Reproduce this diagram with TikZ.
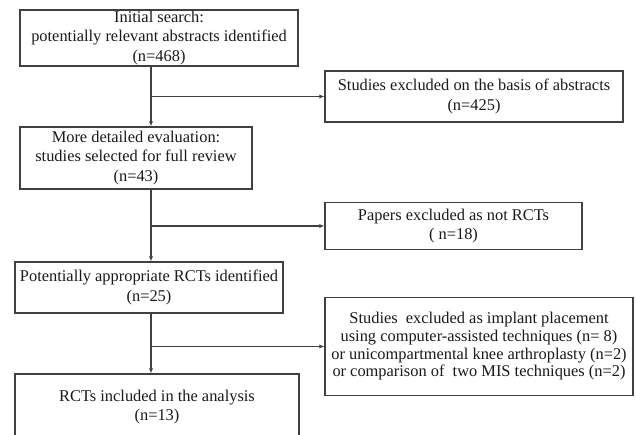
\documentclass[tikz,border=0pt]{standalone}
\usepackage{fontspec}
\setmainfont{Liberation Serif}
\usetikzlibrary{arrows.meta, positioning, calc}
\definecolor{lineg}{HTML}{404040}
\definecolor{txtk}{HTML}{1A1A1A}

\begin{document}
\begin{tikzpicture}[x=1pt, y=-1pt, >={Latex[length=5pt, width=4pt]},
  box/.style={draw=lineg, line width=1.1pt, text=txtk, align=center,
    inner sep=0pt, font=\fontsize{16.4}{19.2}\selectfont},
  flow/.style={->, lineg, line width=1.1pt}]

% Frame of the picture
\path[use as bounding box, clip] (0,0) rectangle (636,435);
\fill[white] (0,0) rectangle (636,435);

% === Main column ===
\node[box, minimum width=278pt, minimum height=56pt] (search) at (159,38)
  {Initial search:\\ potentially relevant abstracts identified\\ (n=468)};
\node[box, minimum width=232pt, minimum height=62pt] (detail) at (136,158)
  {More detailed evaluation:\\ studies selected for full review\\ (n=43)};
\node[box, minimum width=268pt, minimum height=51pt] (approp) at (149,287.5)
  {Potentially appropriate RCTs identified\\ (n=25)};
\node[box, minimum width=284pt, minimum height=66pt] (included) at (157,407)
  {RCTs included in the analysis\\ (n=13)};

% === Exclusions on the right ===
\node[box, minimum width=298pt, minimum height=51pt] (exclabs) at (474,96.5)
  {Studies excluded on the basis of abstracts\\ (n=425)};
\node[box, minimum width=257pt, minimum height=47pt] (exclrct) at (453.5,226)
  {Papers excluded as not RCTs\\ ( n=18)};
\node[box, minimum width=308pt, minimum height=98pt,
      font=\fontsize{16.4}{17.7}\selectfont] (exclimp) at (479,346.5)
  {Studies\ \ excluded as implant placement\\
   using computer-assisted techniques (n=\ 8)\\
   or unicompartmental knee arthroplasty (n=2)\\
   or comparison of\ \ two MIS techniques (n=2)};

% === Spine and connectors ===
\coordinate (spine) at (151,0);
\draw[flow] (search.south -| spine) -- (detail.north -| spine);
\draw[flow] (exclabs.west -| spine) -- (exclabs.west);
\draw[flow] (detail.south -| spine) -- (approp.north -| spine);
\draw[flow] (exclrct.west -| spine) -- (exclrct.west);
\draw[flow] (approp.south -| spine) -- (included.north -| spine);
\draw[flow] (exclimp.west -| spine) -- (exclimp.west);

\end{tikzpicture}
\end{document}
